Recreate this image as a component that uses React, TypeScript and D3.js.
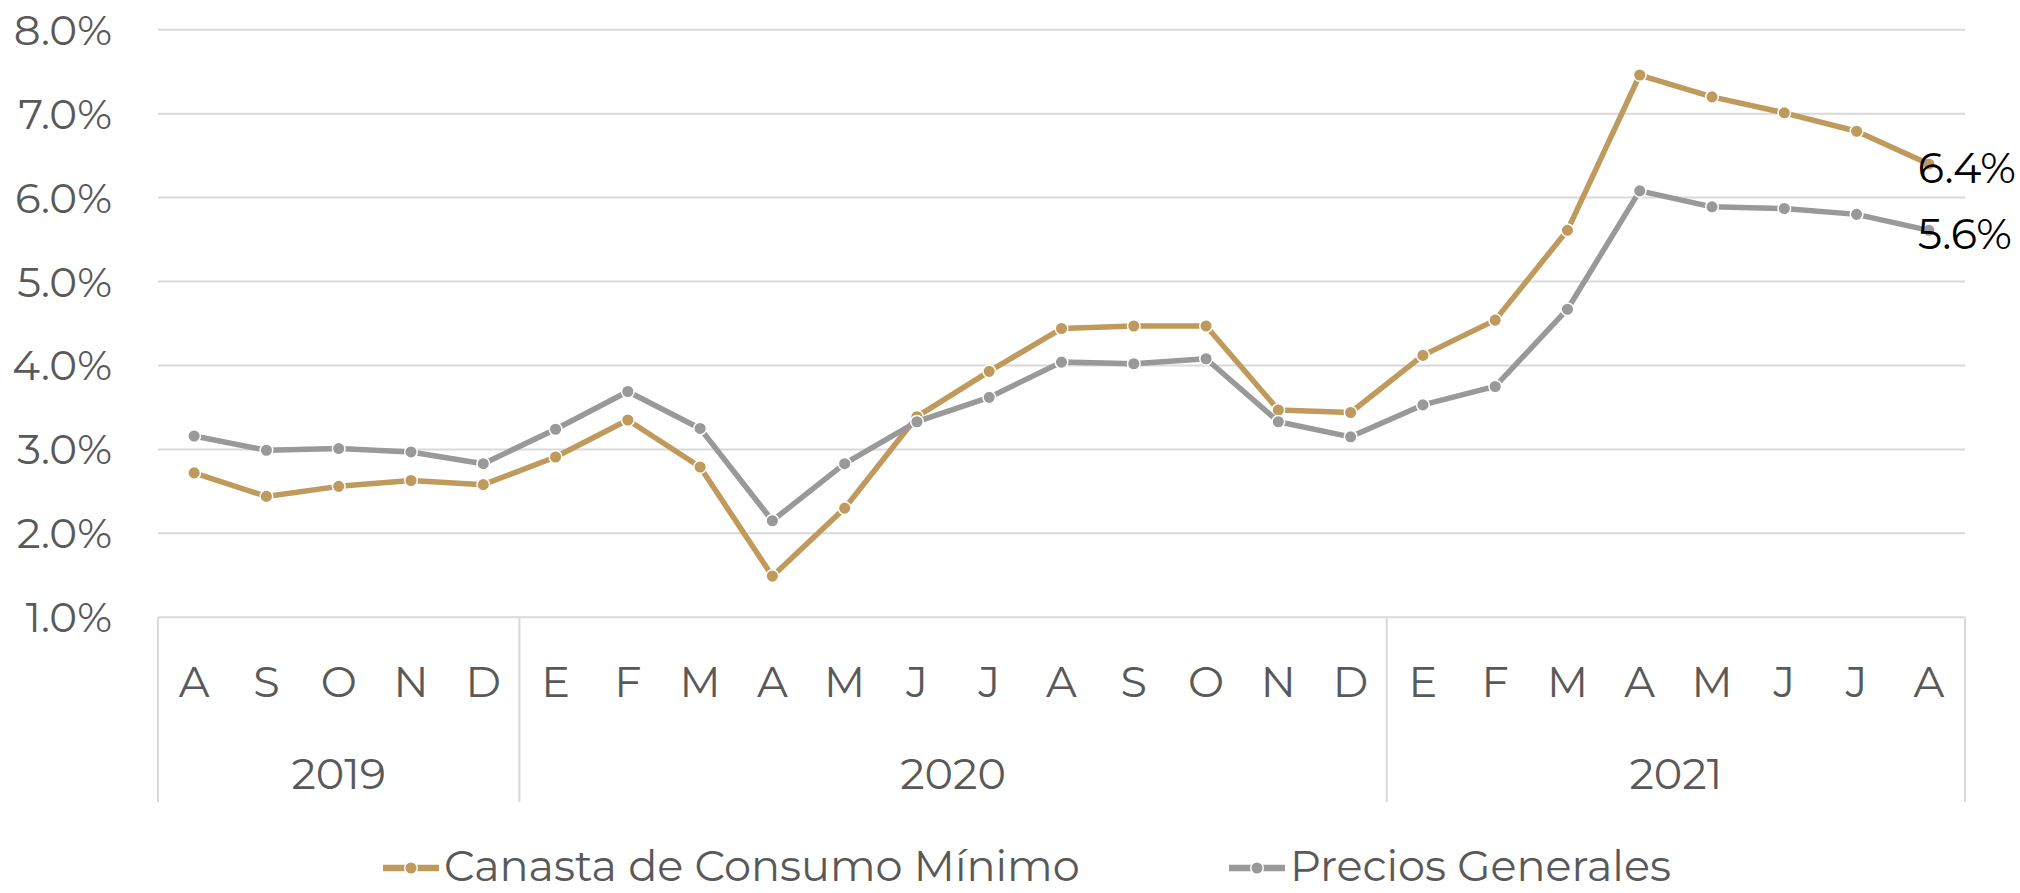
import React from "react";
import * as d3 from "d3";

const months = ["A","S","O","N","D","E","F","M","A","M","J","J","A","S","O","N","D","E","F","M","A","M","J","J","A"];
const yearLabels = ["2019", "2020", "2021"];
const yearSpans = [5, 12, 8];
const canasta = [2.72,2.44,2.56,2.63,2.58,2.91,3.35,2.79,1.49,2.30,3.39,3.93,4.44,4.47,4.47,3.47,3.44,4.12,4.54,5.61,7.46,7.20,7.01,6.79,6.40];
const precios = [3.16,2.99,3.01,2.97,2.83,3.24,3.69,3.25,2.15,2.83,3.33,3.62,4.04,4.02,4.08,3.33,3.15,3.53,3.75,4.67,6.08,5.89,5.87,5.80,5.61];
const yTicks = [1, 2, 3, 4, 5, 6, 7, 8];
const seriesNames = ["Canasta de Consumo Mínimo", "Precios Generales"];
const seriesColors = ["#C09A5C", "#999999"];

const W = 2020, H = 893;
const FONT = "Montserrat, 'DejaVu Sans', sans-serif";
const TEXT = "#595959";
const GRID = "#D9D9D9";

export default function App() {
  const x = d3.scaleBand<number>().domain(d3.range(months.length)).range([158, 1965]).padding(0);
  const y = d3.scaleLinear().domain([1, 8]).range([617.3, 29.7]);
  const cx = (i: number) => (x(i) as number) + x.bandwidth() / 2;
  const line = d3.line<number>().x((_, i) => cx(i)).y((d) => y(d));
  const series = [canasta, precios];

  const bounds: number[] = [0];
  yearSpans.forEach((s, k) => bounds.push(bounds[k] + s));
  const axisY = y(1);
  const sepBottom = 802;

  const fmt = (v: number) => v.toFixed(1) + "%";

  return (
    <svg width={W} height={H} style={{ position: "absolute", left: 0, top: 0, background: "#fff" }} fontFamily={FONT}>
      <rect width={W} height={H} fill="#fff" />
      {yTicks.filter((t) => t > 1).map((t) => (
        <line key={t} x1={158} x2={1965} y1={y(t)} y2={y(t)} stroke={GRID} strokeWidth={2} />
      ))}
      {yTicks.map((t) => (
        <text key={"yl" + t} x={112} y={y(t) + 15} textAnchor="end" fontSize={42} fill={TEXT}>
          {fmt(t)}
        </text>
      ))}
      <line x1={158} x2={1965} y1={axisY} y2={axisY} stroke={GRID} strokeWidth={2} />
      {bounds.map((b, k) => {
        const xx = b < months.length ? (x(b) as number) : 1965;
        return <line key={"sep" + k} x1={xx} x2={xx} y1={axisY} y2={sepBottom} stroke={GRID} strokeWidth={2} />;
      })}
      {months.map((m, i) => (
        <text key={"m" + i} x={cx(i)} y={697} textAnchor="middle" fontSize={43} fill={TEXT}>
          {m}
        </text>
      ))}
      {yearLabels.map((yl, k) => {
        const x0 = x(bounds[k]) as number;
        const x1 = bounds[k + 1] < months.length ? (x(bounds[k + 1]) as number) : 1965;
        return (
          <text key={"y" + k} x={(x0 + x1) / 2} y={789} textAnchor="middle" fontSize={43} fill={TEXT}>
            {yl}
          </text>
        );
      })}
      {series.map((s, k) => (
        <g key={"s" + k}>
          <path d={line(s) || ""} fill="none" stroke={seriesColors[k]} strokeWidth={5.5} strokeLinejoin="round" />
          {s.map((v, i) => (
            <circle key={i} cx={cx(i)} cy={y(v)} r={6.3} fill={seriesColors[k]} stroke="#fff" strokeWidth={1.5} />
          ))}
        </g>
      ))}
      {series.map((s, k) => {
        const i = s.length - 1;
        return (
          <text key={"lab" + k} x={cx(i) - 11} y={y(s[i]) + 19} fontSize={43} fill="#000">
            {fmt(s[i])}
          </text>
        );
      })}
      {seriesNames.map((n, k) => {
        const lx = k === 0 ? 383 : 1229;
        const ly = 868;
        return (
          <g key={"lg" + k}>
            <line x1={lx} x2={lx + 56} y1={ly} y2={ly} stroke={seriesColors[k]} strokeWidth={6.5} />
            <circle cx={lx + 28} cy={ly} r={6.3} fill={seriesColors[k]} stroke="#fff" strokeWidth={1.5} />
            <text x={lx + 61} y={ly + 13} fontSize={43} fill={TEXT}>
              {n}
            </text>
          </g>
        );
      })}
    </svg>
  );
}
